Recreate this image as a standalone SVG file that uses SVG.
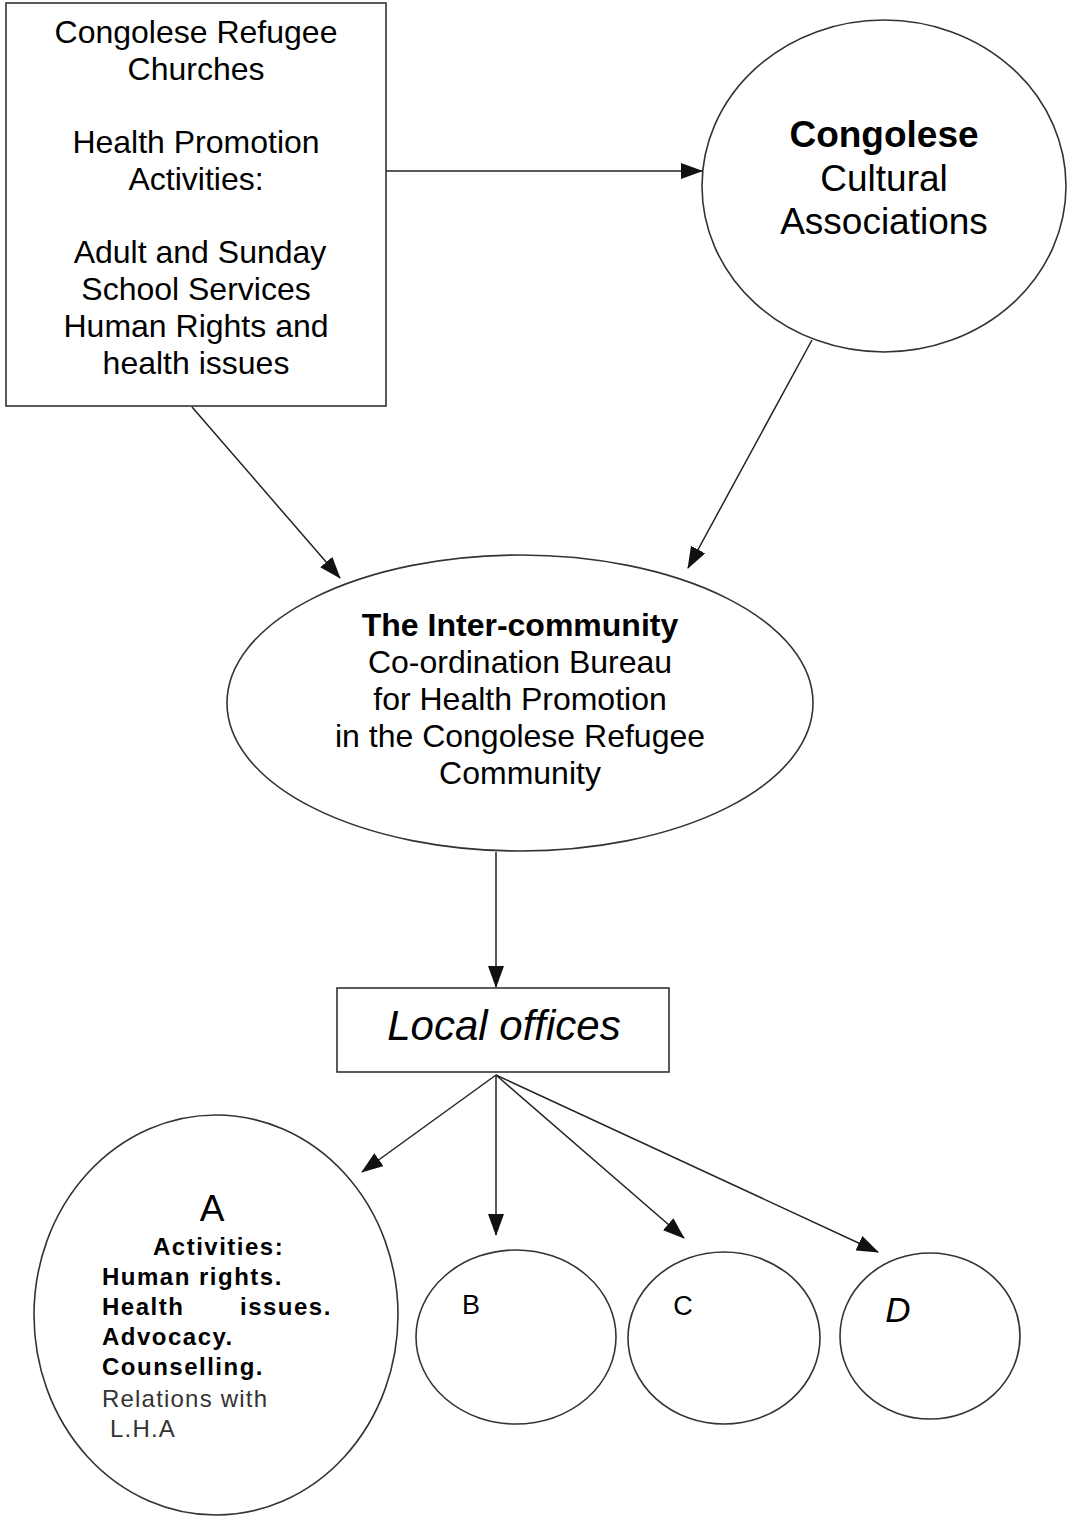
<svg xmlns="http://www.w3.org/2000/svg" width="1068" height="1517" viewBox="0 0 1068 1517">
<defs>
<marker id="ah" markerWidth="22" markerHeight="16" refX="21" refY="8" orient="auto" markerUnits="userSpaceOnUse">
<path d="M0,0 L22,8 L0,16 Z" fill="#111"/>
</marker>
<style>
.sh{fill:#fff;stroke:#333;stroke-width:1.6}
.cn{stroke:#222;stroke-width:1.5;fill:none;marker-end:url(#ah)}
text{font-family:"Liberation Sans",Arial,sans-serif;fill:#000;text-anchor:middle}
.b{font-weight:bold}
.t31{font-size:32px}
.a24{font-size:24px;text-anchor:start;letter-spacing:1.5px}
.r24{font-size:24px;text-anchor:start;letter-spacing:1.2px;fill:#333}
</style>
</defs>
<rect width="1068" height="1517" fill="#fff"/>
<g id="connectors">
<line class="cn" x1="386" y1="171" x2="702" y2="171"/>
<line class="cn" x1="192" y1="407" x2="340" y2="578"/>
<line class="cn" x1="812" y1="340" x2="688" y2="568"/>
<line class="cn" x1="496" y1="852" x2="496" y2="987"/>
<line class="cn" x1="496" y1="1075" x2="362" y2="1172"/>
<line class="cn" x1="496" y1="1075" x2="496" y2="1235"/>
<line class="cn" x1="496" y1="1075" x2="684" y2="1238"/>
<line class="cn" x1="496" y1="1075" x2="878" y2="1252"/>
</g>
<g id="churches">
<rect class="sh" x="6" y="3" width="380" height="403"/>
<text class="t31" x="196" y="43">Congolese Refugee</text>
<text class="t31" x="196" y="80">Churches</text>
<text class="t31" x="196" y="153">Health Promotion</text>
<text class="t31" x="196" y="190">Activities:</text>
<text class="t31" x="200" y="263">Adult and Sunday</text>
<text class="t31" x="196" y="300">School Services</text>
<text class="t31" x="196" y="337">Human Rights and</text>
<text class="t31" x="196" y="374">health issues</text>
</g>
<g id="cultural">
<ellipse class="sh" cx="884" cy="186" rx="182" ry="166"/>
<text class="b" x="884" y="147" font-size="37">Congolese</text>
<text x="884" y="191" font-size="37">Cultural</text>
<text x="884" y="234" font-size="37">Associations</text>
</g>
<g id="bureau">
<ellipse class="sh" cx="520" cy="703" rx="293" ry="148"/>
<text class="t31 b" x="520" y="636">The Inter-community</text>
<text class="t31" x="520" y="673">Co-ordination Bureau</text>
<text class="t31" x="520" y="710">for Health Promotion</text>
<text class="t31" x="520" y="747">in the Congolese Refugee</text>
<text class="t31" x="520" y="784">Community</text>
</g>
<g id="local">
<rect class="sh" x="337" y="988" width="332" height="84"/>
<text x="504" y="1040" font-size="42" font-style="italic">Local offices</text>
</g>
<g id="nodeA">
<ellipse class="sh" cx="216" cy="1315" rx="182" ry="200"/>
<text x="212" y="1221" font-size="37">A</text>
<text class="a24 b" x="153" y="1255">Activities:</text>
<text class="a24 b" x="102" y="1285">Human rights.</text>
<text class="a24 b" x="102" y="1315">Health</text>
<text class="a24 b" x="240" y="1315">issues.</text>
<text class="a24 b" x="102" y="1345">Advocacy.</text>
<text class="a24 b" x="102" y="1375">Counselling.</text>
<text class="r24" x="102" y="1407">Relations with</text>
<text class="r24" x="110" y="1437">L.H.A</text>
</g>
<g id="nodeB">
<ellipse class="sh" cx="516" cy="1337" rx="100" ry="87"/>
<text x="471" y="1314" font-size="27">B</text>
</g>
<g id="nodeC">
<ellipse class="sh" cx="724" cy="1338" rx="96" ry="86"/>
<text x="683" y="1315" font-size="27">C</text>
</g>
<g id="nodeD">
<ellipse class="sh" cx="930" cy="1336" rx="90" ry="83"/>
<text x="898" y="1322" font-size="35" font-style="italic">D</text>
</g>
</svg>
